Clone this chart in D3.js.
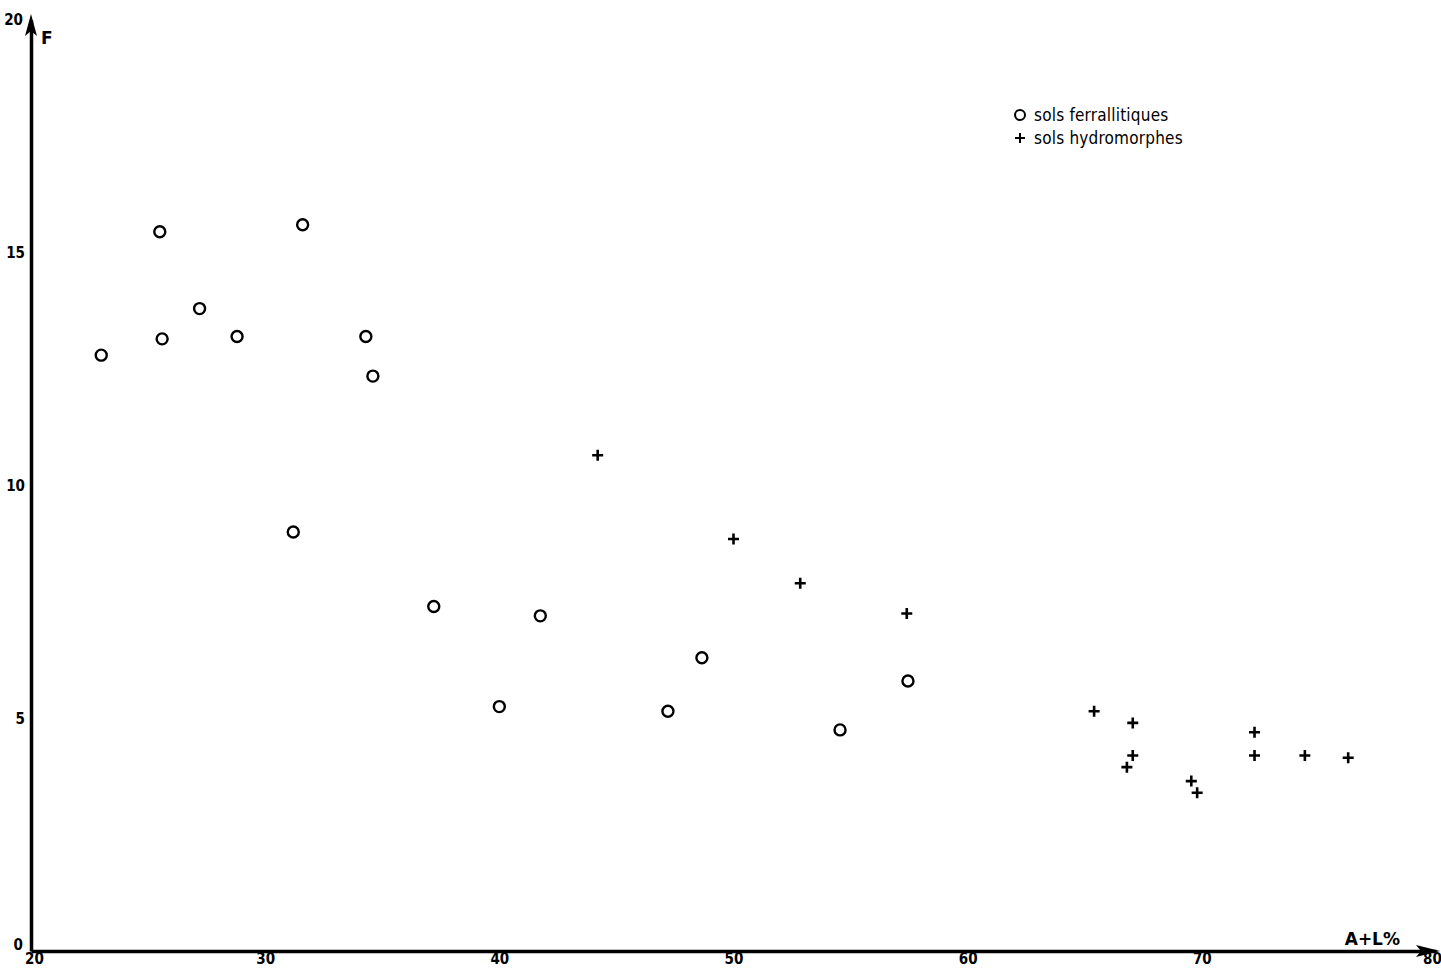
<!DOCTYPE html>
<html>
<head>
<meta charset="utf-8">
<script src="https://cdn.jsdelivr.net/npm/d3@7/dist/d3.min.js"></script>
<style>
  body { margin: 0; background: #fff; }
  svg { display: block; }
  .tick text { font-family: "DejaVu Sans Condensed", "Liberation Sans Narrow", sans-serif; font-weight: bold; font-size: 15px; fill: #000; }
  .axis-title { font-family: "DejaVu Sans", sans-serif; font-weight: bold; font-size: 17px; fill: #000; }
  .legend-text { font-family: "DejaVu Sans Condensed", "Liberation Sans Narrow", sans-serif; font-size: 17px; letter-spacing: 0.2px; fill: #000; }
</style>
</head>
<body>
<svg width="1441" height="969"></svg>
<script>
// sols ferrallitiques (circles): A+L %, F
const ferrX = [23.0, 25.5, 25.6, 27.2, 28.8, 31.6, 34.3, 34.6, 31.2, 37.2, 40.0, 41.75, 47.2, 48.65, 54.55, 57.45];
const ferrY = [12.8, 15.45, 13.15, 13.8, 13.2, 15.6, 13.2, 12.35, 9.0, 7.4, 5.25, 7.2, 5.15, 6.3, 4.75, 5.8];

// sols hydromorphes (crosses)
const hydroX = [44.2, 50.0, 52.85, 57.4, 65.4, 67.05, 67.05, 66.8, 69.55, 69.8, 72.25, 72.25, 74.4, 76.25];
const hydroY = [10.65, 8.85, 7.9, 7.25, 5.15, 4.9, 4.2, 3.95, 3.65, 3.4, 4.7, 4.2, 4.2, 4.15];

const xTicks = [20, 30, 40, 50, 60, 70, 80];
const yTicks = [0, 5, 10, 15, 20];
const legendLabels = ['sols ferrallitiques', 'sols hydromorphes'];

const svg = d3.select('svg');

const x = d3.scaleLinear().domain([20, 80]).range([31, 1436]);
const y = d3.scaleLinear().domain([0, 20]).range([951, 20]);

// x axis
const gx = svg.append('g')
  .attr('transform', `translate(0,${y(0)})`)
  .call(d3.axisBottom(x).tickValues(xTicks).tickSize(0).tickPadding(4).tickFormat(d3.format('d')));
gx.select('.domain').attr('stroke', '#000').attr('stroke-width', 3.5);
gx.selectAll('.tick text').attr('dy', '0.6em');
gx.selectAll('.tick').filter(d => d === 20).select('text').attr('dx', 3);
gx.selectAll('.tick').filter(d => d === 80).select('text').attr('dx', -4);

// y axis
const gy = svg.append('g')
  .attr('transform', `translate(${x(20)},0)`)
  .call(d3.axisLeft(y).tickValues(yTicks).tickSize(0).tickPadding(6).tickFormat(d3.format('d')));
gy.select('.domain').attr('stroke', '#000').attr('stroke-width', 3.5);
gy.selectAll('.tick').filter(d => d === 0).select('text').attr('dy', '-0.1em').attr('dx', -2);
gy.selectAll('.tick').filter(d => d === 20).select('text').attr('dx', -2);

// arrow heads
svg.append('path')
  .attr('d', `M${x(20)},${y(20) - 6} l-6,22 l6,-5 l6,5 z`)
  .attr('fill', '#000');
svg.append('path')
  .attr('d', `M${x(80) + 4},${y(0)} l-24,-6 l5,6 l-5,6 z`)
  .attr('fill', '#000');

// axis titles
svg.append('text').attr('class', 'axis-title')
  .attr('x', x(20) + 10).attr('y', y(20) + 24).text('F');
svg.append('text').attr('class', 'axis-title')
  .attr('x', x(80) - 36).attr('y', y(0) - 6).attr('text-anchor', 'end').text('A+L%');

// points
const ferr = ferrX.map((v, i) => ({ x: v, y: ferrY[i] }));
const hydro = hydroX.map((v, i) => ({ x: v, y: hydroY[i] }));

svg.append('g').selectAll('circle')
  .data(ferr)
  .enter().append('circle')
  .attr('cx', d => x(d.x))
  .attr('cy', d => y(d.y))
  .attr('r', 5.5)
  .attr('fill', 'none')
  .attr('stroke', '#000')
  .attr('stroke-width', 2.4);

svg.append('g').selectAll('path')
  .data(hydro)
  .enter().append('path')
  .attr('transform', d => `translate(${x(d.x)},${y(d.y)})`)
  .attr('d', 'M-5.5,0H5.5M0,-5.5V5.5')
  .attr('stroke', '#000')
  .attr('stroke-width', 2.6)
  .attr('fill', 'none');

// legend
const legend = svg.append('g').attr('transform', 'translate(1020,115)');
legend.append('circle').attr('r', 5).attr('fill', 'none').attr('stroke', '#000').attr('stroke-width', 2);
legend.append('path').attr('transform', 'translate(0,23)')
  .attr('d', 'M-5,0H5M0,-5V5').attr('stroke', '#000').attr('stroke-width', 2);
legend.selectAll('text.legend-text')
  .data(legendLabels)
  .enter().append('text')
  .attr('class', 'legend-text')
  .attr('x', 14)
  .attr('y', (d, i) => i * 23 + 6)
  .text(d => d);
</script>
</body>
</html>
